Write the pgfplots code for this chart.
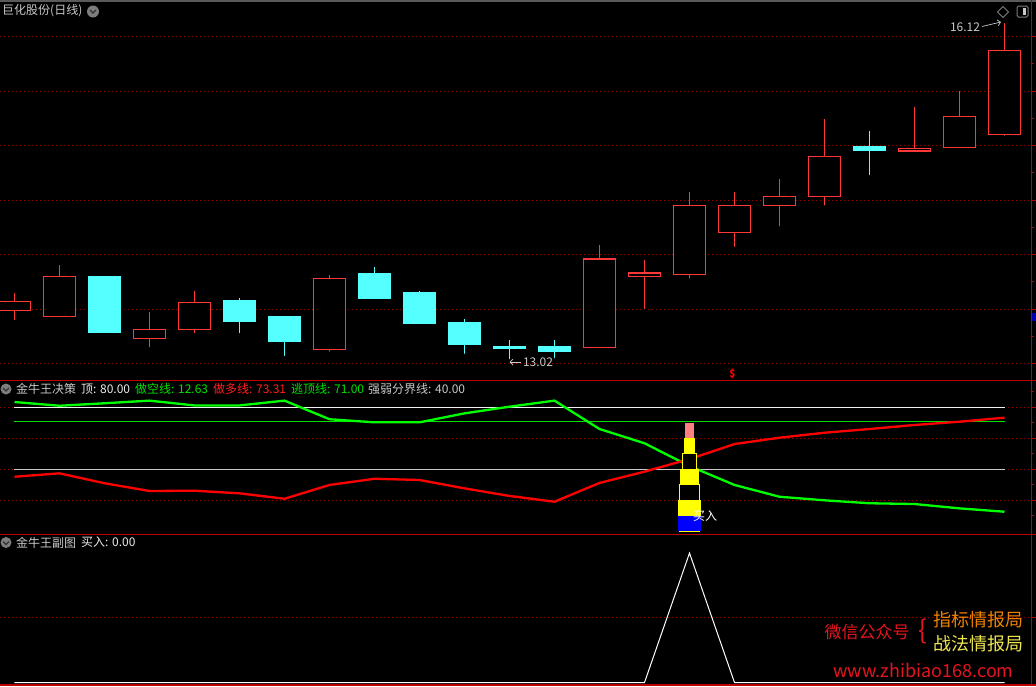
\documentclass[border=0pt]{standalone}
\usepackage{pgfplots}
\pgfplotsset{compat=1.18}
\usepackage{pgfplotstable}
\usetikzlibrary{arrows.meta}
\usepackage{fontspec}
\setmainfont{Noto Sans CJK SC}
\definecolor{cupred}{RGB}{255,55,55}
\definecolor{cdown}{RGB}{84,255,255}
\definecolor{gridred}{RGB}{150,0,0}
\definecolor{sepred}{RGB}{190,0,0}
\definecolor{ttl}{RGB}{200,200,200}
\definecolor{lgreen}{RGB}{0,255,0}
\definecolor{tgreen}{RGB}{0,225,0}
\definecolor{lred}{RGB}{255,0,0}
\definecolor{pinkb}{RGB}{255,128,128}
\definecolor{yelb}{RGB}{255,255,0}
\definecolor{blueb}{RGB}{0,0,255}
\definecolor{wmred}{RGB}{230,20,30}
\definecolor{wmorange}{RGB}{240,130,0}
\definecolor{wmyellow}{RGB}{240,230,80}
\definecolor{icong}{RGB}{125,125,125}

\pgfplotstableread{
k o h l c
0 13.49 13.65 13.38 13.57
1 13.43 13.90 13.41 13.80
3 13.23 13.47 13.13 13.31
4 13.31 13.67 13.26 13.56
7 13.13 13.81 13.09 13.78
13 13.15 14.09 13.13 13.96
14 13.80 13.95 13.48 13.83
15 13.82 14.57 13.76 14.45
16 14.20 14.57 14.05 14.45
17 14.45 14.69 14.24 14.53
18 14.53 15.24 14.43 14.90
20 14.95 15.35 14.93 14.97
21 14.98 15.50 14.98 15.27
22 15.10 16.12 15.07 15.87
}\upcandles

\pgfplotstableread{
k o h l c
2 13.80 13.80 13.28 13.29
5 13.58 13.60 13.26 13.39
6 13.43 13.43 13.05 13.20
8 13.83 13.89 13.58 13.60
9 13.65 13.67 13.35 13.37
10 13.38 13.41 13.07 13.18
11 13.16 13.22 13.02 13.14
12 13.16 13.22 13.03 13.11
19 14.99 15.13 14.71 14.96
}\downcandles

\pgfplotstableread{
k short long
0 83.4 35.2
1 81.0 37.4
2 82.6 31.0
3 84.3 26.0
4 81.2 26.2
5 81.2 24.5
6 84.3 21.0
7 72.3 29.9
8 70.3 33.9
9 70.3 33.1
10 76.1 27.7
11 80.4 22.8
12 84.3 19.1
13 66.0 31.2
14 56.8 38.5
15 42.1 46.6
16 29.9 56.3
17 22.3 60.4
18 20.0 63.6
19 18.1 66.0
20 17.6 68.6
21 14.8 70.7
22 12.63 73.31
}\lines

\pgfplotstableread{
k buy
0 0
1 0
2 0
3 0
4 0
5 0
6 0
7 0
8 0
9 0
10 0
11 0
12 0
13 0
14 0
15 1
16 0
17 0
18 0
19 0
20 0
21 0
22 0
}\buyline

\pgfplotsset{panel/.style={
  scale only axis, width=1031pt, xmin=-0.32222, xmax=22.58889,
  anchor=south west, hide axis, clip=false},
  pricepanel/.style={panel, at={(0pt,-380pt)}, height=378pt, ymin=12.849, ymax=16.317},
  gridl/.style={draw=gridred, line width=0.9pt, dash pattern=on 1pt off 3pt},
  wick/.style={only marks, mark=none,
  error bars/y dir=plus, error bars/y explicit, error bars/error mark=none}}
\newcommand{\gridat}[1]{\addplot[gridl] coordinates {(-0.32222,#1) (22.58889,#1)};}
\newcommand{\majt}[1]{\draw[sepred, line width=0.8pt] (axis cs:22.58889,#1) -- ++(5pt,0pt);}
\newcommand{\mint}[1]{\draw[sepred, line width=0.8pt] (axis cs:22.58889,#1) -- ++(3pt,0pt);}

\begin{document}
\begin{tikzpicture}
\fill[black] (0pt,0pt) rectangle (1036pt,-686pt);
\fontsize{12pt}{14pt}\selectfont

% ---------------- main price panel: grid and wicks
\begin{axis}[pricepanel]
\pgfplotsinvokeforeach{13,13.5,14,14.5,15,15.5,16}{\gridat{#1}\majt{#1}}
\pgfplotsinvokeforeach{13.25,13.75,14.25,14.75,15.25,15.75}{\mint{#1}}
\addplot[wick, error bars/error bar style={draw=cupred, line width=1.2pt}]
  table[x=k, y=l, y error plus expr={\thisrow{h}-\thisrow{l}}] {\upcandles};
\addplot[wick, error bars/error bar style={draw=cdown, line width=1.2pt}]
  table[x=k, y=l, y error plus expr={\thisrow{h}-\thisrow{l}}] {\downcandles};
\end{axis}
% up candle bodies (hollow red)
\begin{axis}[pricepanel, ybar stacked, bar width=31.4pt]
\addplot[draw=none, fill=none, bar shift=0pt] table[x=k, y=o] {\upcandles};
\addplot[fill=black, draw=cupred, line width=1.2pt, bar shift=0pt]
  table[x=k, y expr={\thisrow{c}-\thisrow{o}}] {\upcandles};
\end{axis}
% down candle bodies (filled cyan)
\begin{axis}[pricepanel, ybar stacked, bar width=32pt]
\addplot[draw=none, fill=none, bar shift=0pt] table[x=k, y=c] {\downcandles};
\addplot[fill=cdown, draw=cdown, line width=0.6pt, bar shift=0pt]
  table[x=k, y expr={\thisrow{o}-\thisrow{c}}] {\downcandles};
\end{axis}

% ---------------- indicator panel
\begin{axis}[panel, at={(0pt,-534pt)}, height=154pt,
  ymin=-1.74, ymax=97.61]
\pgfplotsinvokeforeach{20,40,60,80}{\gridat{#1}\majt{#1}}
\pgfplotsinvokeforeach{10,30,50,70,90}{\mint{#1}}
\addplot[draw={rgb,255:red,240;green,240;blue,240}, line width=1pt] coordinates {(0,80) (22,80)};
\addplot[draw=tgreen, line width=0.9pt] coordinates {(0,71) (22,71)};
\addplot[draw=ttl, line width=1pt] coordinates {(0,40) (22,40)};
\addplot[draw=lgreen, line width=2.3pt] table[x=k, y=short] {\lines};
\addplot[draw=lred, line width=2.3pt] table[x=k, y=long] {\lines};
% stacked signal column
\addplot[ybar, bar shift=0pt, bar width=9pt, fill=pinkb, draw=none] coordinates {(15,70)};
\addplot[ybar, bar shift=0pt, bar width=11pt, fill=yelb, draw=none] coordinates {(15,60)};
\addplot[ybar, bar shift=0pt, bar width=13.4pt, fill=black, draw=yelb, line width=1pt] coordinates {(15,50)};
\addplot[ybar, bar shift=0pt, bar width=19pt, fill=yelb, draw=none] coordinates {(15,40)};
\addplot[ybar, bar shift=0pt, bar width=20.2pt, fill=black, draw=yelb, line width=1pt] coordinates {(15,30)};
\addplot[ybar, bar shift=0pt, bar width=23pt, fill=yelb, draw=none] coordinates {(15,20)};
\addplot[ybar, bar shift=0pt, bar width=23pt, fill=blueb, draw=none] coordinates {(15,10)};
\end{axis}

% ---------------- lower panel
\begin{axis}[panel, at={(0pt,-686pt)}, height=152pt,
  ymin=-0.027, ymax=1.147]
\gridat{0.5}\majt{0.5}
\addplot[draw=white, line width=1pt] table[x=k, y=buy] {\buyline};
\end{axis}

% ---------------- frame lines
\fill[black] (-40pt,0pt) rectangle (0pt,-686pt);
\draw[draw={rgb,255:red,90;green,90;blue,90}, line width=1.2pt] (0pt,-1pt) -- (1036pt,-1pt);
\draw[sepred, line width=1.2pt] (0pt,-380.5pt) -- (1036pt,-380.5pt);
\draw[sepred, line width=1.2pt] (0pt,-534.5pt) -- (1036pt,-534.5pt);
\draw[sepred, line width=1.2pt] (0pt,-685pt) -- (1036pt,-685pt);
\draw[sepred, line width=1.2pt] (1031.5pt,0pt) -- (1031.5pt,-686pt);
\fill[blueb!70!black] (1032pt,-313pt) rectangle (1036pt,-321pt);

% ---------------- titles
\node[anchor=west, inner sep=0pt, text=ttl] at (2pt,-11pt) {巨化股份(日线)};
\fill[icong] (93pt,-11.5pt) circle (6pt);
\draw[black!80, line width=1.2pt] (90pt,-10pt) -- (93pt,-13pt) -- (96pt,-10pt);

\fill[icong] (6pt,-389pt) circle (5.5pt);
\draw[black!80, line width=1.2pt] (3pt,-388pt) -- (6pt,-391pt) -- (9pt,-388pt);
\node[anchor=west, inner sep=0pt, text=ttl] at (16pt,-389pt) {金牛王决策};
\node[anchor=west, inner sep=0pt, text={rgb,255:red,235;green,235;blue,235}] at (81pt,-389pt) {顶: 80.00};
\node[anchor=west, inner sep=0pt, text=tgreen] at (135pt,-389pt) {做空线: 12.63};
\node[anchor=west, inner sep=0pt, text={rgb,255:red,255;green,30;blue,30}] at (213pt,-389pt) {做多线: 73.31};
\node[anchor=west, inner sep=0pt, text=tgreen] at (291pt,-389pt) {逃顶线: 71.00};
\node[anchor=west, inner sep=0pt, text=ttl] at (368pt,-389pt) {强弱分界线: 40.00};

\fill[icong] (6pt,-542.5pt) circle (5.5pt);
\draw[black!80, line width=1.2pt] (3pt,-541.5pt) -- (6pt,-544.5pt) -- (9pt,-541.5pt);
\node[anchor=west, inner sep=0pt, text=ttl] at (16pt,-542.5pt) {金牛王副图};
\node[anchor=west, inner sep=0pt, text={rgb,255:red,235;green,235;blue,235}] at (81pt,-542.5pt) {买入: 0.00};

% ---------------- annotations
\node[inner sep=0pt, text=ttl] at (965pt,-27pt) {16.12};
\draw[ttl, line width=0.7pt, -{Straight Barb[length=3pt]}] (982pt,-26.5pt) -- (1001pt,-22pt);
\node[inner sep=0pt, text=ttl] at (538pt,-362pt) {13.02};
\draw[ttl, line width=0.7pt, -{Straight Barb[length=3pt]}] (521pt,-362pt) -- (509.5pt,-362pt);
\node[inner sep=0pt, text=lred, font=\fontsize{10pt}{10pt}\selectfont\bfseries] at (732.5pt,-374pt) {\$};
\node[inner sep=0pt, text=white] at (705pt,-516.5pt) {买入};
\draw[icong, line width=0.9pt] (1003pt,-6.5pt) -- (1008.5pt,-12pt) -- (1003pt,-17.5pt) -- (997.5pt,-12pt) -- cycle;
\draw[icong, line width=1pt, rounded corners=1.5pt] (1017pt,-6pt) rectangle (1028pt,-17pt);
\fill[ttl] (1023pt,-8pt) rectangle (1026pt,-15pt);

% ---------------- watermark
\node[inner sep=0pt, text=wmred, font=\fontsize{17pt}{17pt}\selectfont] at (867pt,-632.5pt) {微信公众号};
\node[inner sep=0pt, text=wmred, font=\fontsize{26pt}{26pt}\selectfont] at (922.5pt,-631pt) {\{};
\node[inner sep=0pt, text=wmorange, font=\fontsize{18pt}{18pt}\selectfont] at (978pt,-620pt) {指标情报局};
\node[inner sep=0pt, text=wmyellow, font=\fontsize{18pt}{18pt}\selectfont] at (978.5pt,-644pt) {战法情报局};
\node[inner sep=0pt, text=wmred, font=\fontsize{18pt}{18pt}\selectfont] at (923.5pt,-670.5pt) {www.zhibiao168.com};

\pgfresetboundingbox
\useasboundingbox (0pt,0pt) rectangle (1036pt,-686pt);
\end{tikzpicture}
\end{document}
